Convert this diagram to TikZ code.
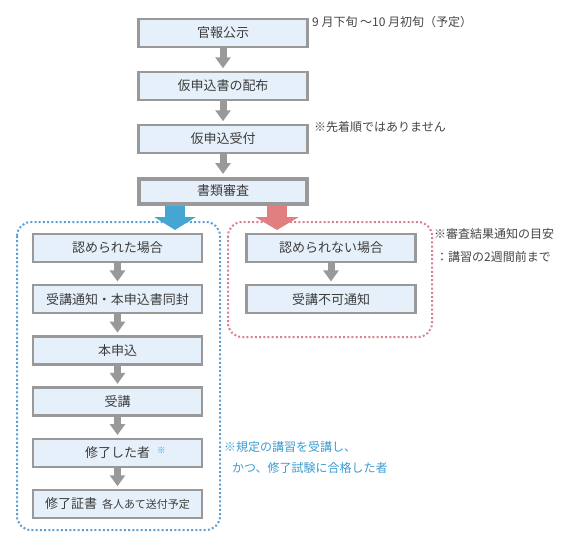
\documentclass[tikz,border=0pt]{standalone}
\usepackage{fontspec}
\setmainfont{Noto Sans CJK JP}
\usetikzlibrary{arrows.meta}

\definecolor{boxfill}{HTML}{E6F0FA}
\definecolor{boxline}{HTML}{999999}
\definecolor{txtgray}{HTML}{3C3C3C}
\definecolor{notegray}{HTML}{454545}
\definecolor{okblue}{HTML}{45A6D2}
\definecolor{ngred}{HTML}{E07E80}
\definecolor{okdot}{HTML}{5A9FD6}
\definecolor{ngdot}{HTML}{D9808F}
\definecolor{noteblue}{HTML}{3A9BD2}

\begin{document}
\begin{tikzpicture}
[x=1pt, y=-1pt, every node/.style={text=txtgray, font=\fontsize{13}{15}\selectfont},
 stepbox/.style={draw=boxline, line width=2.5pt, fill=boxfill, minimum width=169pt, minimum height=28pt, inner sep=0pt},
 flow/.style={boxline, line width=7pt, -{Triangle[width=15pt,length=11pt]}, shorten >=2.5pt},
 note/.style={anchor=west, inner sep=0pt, text=notegray, font=\fontsize{12}{14}\selectfont},
 frame/.style={line width=2pt, dash pattern=on 2pt off 2.2pt, rounded corners=14pt}]
    \useasboundingbox (0, 0) rectangle (566, 552);
    \coordinate (c0) at (223, 33);
    \coordinate (c1) at (223, 86);
    \coordinate (c2) at (223, 139);
    \coordinate (c3) at (223, 191);
    \coordinate (l0) at (117.5, 248);
    \coordinate (l1) at (117.5, 299.2);
    \coordinate (l2) at (117.5, 350.4);
    \coordinate (l3) at (117.5, 401.6);
    \coordinate (l4) at (117.5, 452.8);
    \coordinate (l5) at (117.5, 504);
    \coordinate (r0) at (331, 248);
    \coordinate (r1) at (331, 299.2);
    \coordinate (okTip) at (175, 230);
    \coordinate (ngTip) at (277, 230);
    % dotted frames
    \draw[frame, okdot] (17, 222) rectangle (220, 530);
    \draw[frame, ngdot] (228, 222) rectangle (432, 337);
    % top column
    \node[stepbox] (koji) at (c0) {官報公示};
    \node[stepbox] (haifu) at (c1) {仮申込書の配布};
    \node[stepbox] (uketsuke) at (c2) {仮申込受付};
    \node[stepbox, line width=4pt, minimum width=168pt, minimum height=25pt] (shinsa) at (c3) {書類審査};
    % left column
    \node[stepbox] (ok) at (l0) {認められた場合};
    \node[stepbox] (tsuchi) at (l1) {受講通知・本申込書同封};
    \node[stepbox] (honmoushi) at (l2) {本申込};
    \node[stepbox] (juko) at (l3) {受講};
    \node[stepbox] (shuryo) at (l4) {修了した者\rlap{\hspace{7pt}\raisebox{4pt}{\color{noteblue}\fontsize{8.5}{9}\selectfont ※}}};
    \node[stepbox] (shosho) at (l5) {修了証書\hspace{5pt}{\fontsize{11}{13}\selectfont 各人あて送付予定}};
    % right column
    \node[stepbox] (ng) at (r0) {認められない場合};
    \node[stepbox] (fuka) at (r1) {受講不可通知};
    % gray arrows
    \draw[flow] (koji.south) -- (haifu.north);
    \draw[flow] (haifu.south) -- (uketsuke.north);
    \draw[flow] (uketsuke.south) -- (shinsa.north);
    \draw[flow] (ok.south) -- (tsuchi.north);
    \draw[flow] (tsuchi.south) -- (honmoushi.north);
    \draw[flow] (honmoushi.south) -- (juko.north);
    \draw[flow] (juko.south) -- (shuryo.north);
    \draw[flow] (shuryo.south) -- (shosho.north);
    \draw[flow] (ng.south) -- (fuka.north);
    % result arrows
    \draw[okblue, line width=20pt, -{Triangle[width=41pt,length=13pt]}] (shinsa.south -| okTip) -- (okTip);
    \draw[ngred, line width=20pt, -{Triangle[width=43pt,length=13pt]}] (shinsa.south -| ngTip) -- (ngTip);
    % notes
    \node[note] (kiNote) at (312, 22) {9 月下旬 ～10 月初旬（予定）};
    \node[note] (junNote) at (314, 127) {※先着順ではありません};
    \node[note] (meyasu) at (434, 234) {※審査結果通知の目安};
    \node[note] (meyasu2) at (436, 257) {：講習の2週間前まで};
    \node[note, text=noteblue] (kitei) at (224, 447) {※規定の講習を受講し、};
    \node[note, text=noteblue] (kitei2) at (232, 468) {かつ、修了試験に合格した者};
\end{tikzpicture}
\end{document}
